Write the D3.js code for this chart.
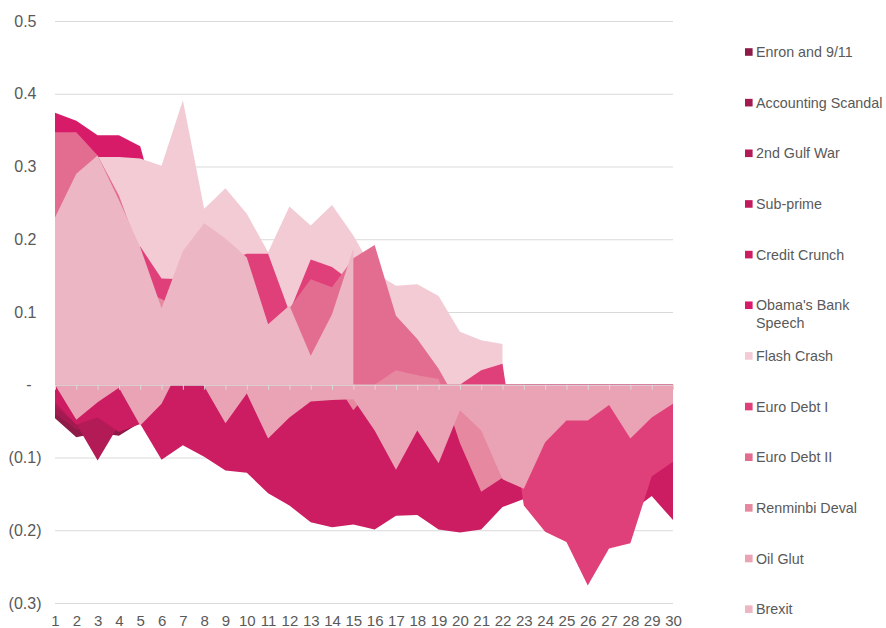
<!DOCTYPE html>
<html>
<head>
<meta charset="utf-8">
<script src="https://cdn.jsdelivr.net/npm/d3@7"></script>
<style>
  body { margin: 0; background: #fff; }
  svg { display: block; font-family: "Liberation Sans", Arial, sans-serif; }
</style>
</head>
<body>
<div id="chart"></div>
<script>
// periods after each event
const periods = [1, 2, 3, 4, 5, 6, 7, 8, 9, 10, 11, 12, 13, 14, 15, 16, 17, 18, 19, 20, 21, 22, 23, 24, 25, 26, 27, 28, 29, 30];
const yTicks = [0.5, 0.4, 0.3, 0.2, 0.1, 0, -0.1, -0.2, -0.3];

const enron = [-0.046, -0.072, -0.066, -0.070, -0.052, -0.060, -0.050, -0.070, -0.080, -0.060, -0.090, -0.100, -0.110, -0.120, -0.100,
               -0.120, -0.130, -0.110, -0.130, -0.140, -0.130, -0.110, -0.100, -0.120, -0.130, -0.110, -0.120, -0.100, -0.090, -0.080];
const accounting = [-0.040, -0.062, -0.058, -0.064, -0.048, -0.050, -0.040, -0.060, -0.070, -0.050, -0.080, -0.090, -0.100, -0.110, -0.090,
                    -0.100, -0.110, -0.090, -0.120, -0.120, -0.110, -0.090, -0.080, -0.100, -0.110, -0.090, -0.100, -0.080, -0.070, -0.060];
const gulfWar = [-0.030, -0.054, -0.104, -0.055, -0.040, -0.050, -0.030, -0.050, -0.060, -0.070, -0.080, -0.070, -0.090, -0.100, -0.080,
                 -0.090, -0.100, -0.080, -0.100, -0.110, -0.100, -0.080, -0.070, -0.090, -0.100, -0.080, -0.090, -0.070, -0.060, -0.050];
const subPrime = [-0.020, -0.040, -0.030, -0.050, -0.040, -0.070, -0.060, -0.070, -0.090, -0.080, -0.110, -0.120, -0.140, -0.150, -0.140,
                  -0.160, -0.150, -0.140, -0.160, -0.170, -0.160, -0.140, -0.130, -0.150, -0.160, -0.170, -0.150, -0.140, -0.120, -0.130];
const creditCrunch = [-0.024, -0.055, -0.045, -0.065, -0.054, -0.103, -0.083, -0.099, -0.118, -0.121, -0.149, -0.166, -0.189, -0.196, -0.192,
                      -0.199, -0.180, -0.179, -0.199, -0.203, -0.199, -0.168, -0.157, -0.175, -0.185, -0.200, -0.190, -0.175, -0.153, -0.186];
const obama = [0.374, 0.363, 0.343, 0.343, 0.328, 0.220, 0.200, 0.180, 0.190, 0.160, 0.150, 0.140, 0.130, 0.150, 0.120,
               0.100, 0.090, 0.080, 0.060, 0.040];
const flashCrash = [0.290, 0.300, 0.313, 0.313, 0.311, 0.301, 0.391, 0.242, 0.270, 0.235, 0.182, 0.245, 0.219, 0.247, 0.205,
                    0.154, 0.136, 0.138, 0.122, 0.073, 0.061, 0.056];
const euroDebt1 = [0.100, 0.120, 0.140, 0.160, 0.190, 0.146, 0.145, 0.170, 0.170, 0.180, 0.180, 0.100, 0.172, 0.162, 0.140,
                   0.100, 0.050, 0.020, 0.000, 0.000, 0.020, 0.029, -0.166, -0.202, -0.216, -0.276, -0.225, -0.218, -0.126, -0.106];
const euroDebt2 = [0.347, 0.347, 0.315, 0.260, 0.180, 0.100, 0.120, 0.150, 0.120, 0.100, 0.070, 0.105, 0.145, 0.134, 0.174,
                   0.192, 0.095, 0.063, 0.022, -0.030];
const renminbi = [0.100, 0.120, 0.100, 0.120, 0.130, 0.118, 0.100, 0.080, 0.060, 0.050, 0.040, 0.030, 0.020, 0.010, -0.035,
                  0.000, 0.020, 0.013, 0.008, -0.080, -0.147, -0.128, -0.100];
const oilGlut = [0.000, -0.048, -0.024, -0.004, -0.056, -0.026, 0.032, -0.002, -0.053, -0.012, -0.074, -0.045, -0.023, -0.021, -0.020,
                 -0.063, -0.117, -0.063, -0.108, -0.035, -0.063, -0.130, -0.143, -0.079, -0.049, -0.049, -0.028, -0.074, -0.045, -0.026];
const brexit = [0.230, 0.290, 0.315, 0.254, 0.189, 0.105, 0.184, 0.222, 0.201, 0.175, 0.083, 0.109, 0.040, 0.097, 0.187];

const seriesNames = ["Enron and 9/11", "Accounting Scandal", "2nd Gulf War", "Sub-prime", "Credit Crunch", "Obama's Bank Speech",
                     "Flash Crash", "Euro Debt I", "Euro Debt II", "Renminbi Deval", "Oil Glut", "Brexit"];
const seriesValues = [enron, accounting, gulfWar, subPrime, creditCrunch, obama, flashCrash, euroDebt1, euroDebt2, renminbi, oilGlut, brexit];
const seriesColors = ["#8e1a47", "#a21a4f", "#b31b56", "#c21b5d", "#cc1c62", "#d81b68",
                      "#f2cbd5", "#e0407a", "#e36d90", "#e6889f", "#eaa3b4", "#edb6c4"];

const series = seriesNames.map((name, i) => ({name, values: seriesValues[i], color: seriesColors[i]}));

const width = 886, height = 628;
const svg = d3.select('#chart').append('svg')
    .attr('width', width)
    .attr('height', height);

const x = d3.scaleLinear().domain([1, 30]).range([55, 673]);
const y = d3.scaleLinear().domain([-0.3, 0.5]).range([603, 21]);

// gridlines (behind the areas)
svg.append('g')
    .attr('transform', 'translate(55,0)')
    .call(d3.axisLeft(y).tickValues(yTicks.filter(d => d !== 0)).tickSize(-(x.range()[1] - x.range()[0])).tickFormat(''))
    .call(g => g.select('.domain').remove())
    .call(g => g.selectAll('line').attr('stroke', '#d9d9d9'));

// areas, first series at the back
const area = d3.area()
    .defined(d => d[1] != null)
    .x(d => x(d[0]))
    .y0(y(0))
    .y1(d => y(d[1]));

svg.append('g').selectAll('path')
    .data(series)
    .join('path')
    .attr('fill', d => d.color)
    .attr('d', d => area(periods.map((p, i) => [p, d.values[i]])));

// zero line with small ticks
svg.append('g')
    .attr('transform', `translate(0,${y(0)})`)
    .call(d3.axisBottom(x).tickValues(periods).tickSize(5).tickSizeOuter(0).tickFormat(''))
    .call(g => g.selectAll('line, path').attr('stroke', '#d9d9d9'));

// x labels
svg.append('g')
    .attr('transform', 'translate(0,615.5)')
    .attr('font-family', null)
    .attr('font-size', null)
    .call(d3.axisBottom(x).tickValues(periods).tickSize(0).tickPadding(0))
    .call(g => g.select('.domain').remove())
    .call(g => g.selectAll('text').attr('fill', '#595959').style('font-size', '15px'));

// y labels, accounting style
const fmt = d => d === 0 ? '-' : d < 0 ? '(' + d3.format('.1f')(-d) + ')' : d3.format('.1f')(d);
svg.append('g')
    .attr('transform', 'translate(41.5,0)')
    .attr('font-family', null)
    .attr('font-size', null)
    .call(d3.axisLeft(y).tickValues(yTicks).tickSize(0).tickPadding(0).tickFormat(fmt))
    .call(g => g.select('.domain').remove())
    .call(g => g.selectAll('text')
        .attr('fill', '#595959')
        .style('font-size', '16px')
        .attr('x', d => d < 0 ? 0 : d === 0 ? -10 : -5));

// legend
const legend = svg.append('g').selectAll('g')
    .data(series)
    .join('g')
    .attr('transform', (d, i) => `translate(745,${52 + i * 50.65})`);

legend.append('rect')
    .attr('x', 0)
    .attr('y', -3.8)
    .attr('width', 7.6)
    .attr('height', 7.6)
    .attr('fill', d => d.color);

legend.append('text')
    .attr('x', 11)
    .attr('y', 5)
    .attr('fill', '#595959')
    .style('font-size', '14.3px')
    .each(function(d) {
        const t = d3.select(this);
        if (d.name === "Obama's Bank Speech") {
            t.append('tspan').attr('x', 11).text("Obama's Bank");
            t.append('tspan').attr('x', 11).attr('dy', 17.3).text('Speech');
        } else {
            t.text(d.name);
        }
    });
</script>
</body>
</html>
